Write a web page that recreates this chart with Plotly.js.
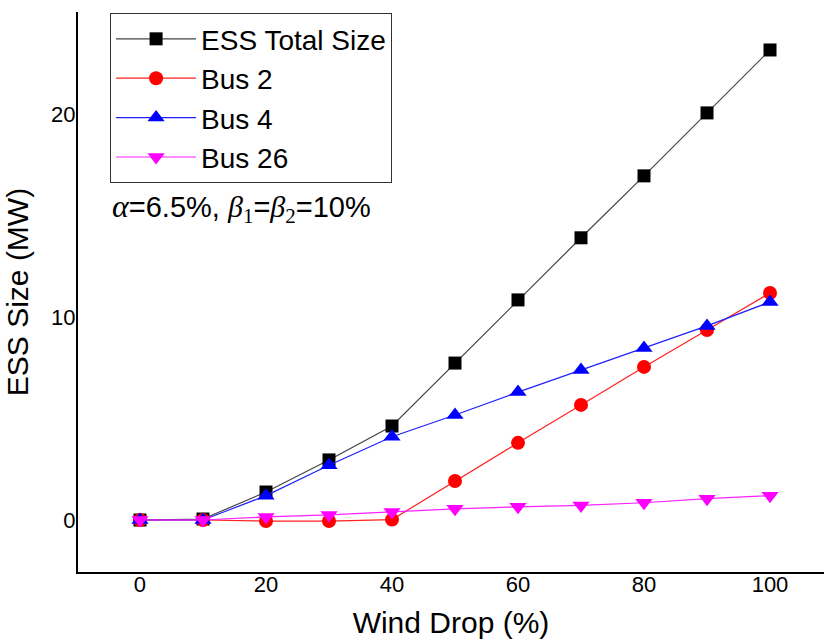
<!DOCTYPE html>
<html>
<head>
<meta charset="utf-8">
<script src="https://cdn.plot.ly/plotly-3.0.1.min.js"></script>
<style>body{margin:0;padding:0;background:#fff;} #chart{width:824px;height:639px;}</style>
</head>
<body>
<div id="chart"></div>
<script>
var windDrop = [0, 10, 20, 30, 40, 50, 60, 70, 80, 90, 100];
var essTotal = [0, 0.05, 1.38, 2.96, 4.63, 7.73, 10.84, 13.9, 16.95, 20.05, 23.15];
var bus2 = [0, 0, -0.05, -0.05, 0.02, 1.92, 3.8, 5.67, 7.54, 9.36, 11.18];
var bus4 = [0, 0, 1.2, 2.7, 4.1, 5.17, 6.3, 7.39, 8.47, 9.56, 10.74];
var bus26 = [0, 0, 0.15, 0.25, 0.4, 0.55, 0.65, 0.72, 0.85, 1.05, 1.2];
var seriesNames = ['ESS Total Size', 'Bus 2', 'Bus 4', 'Bus 26'];
var xTicks = [0, 20, 40, 60, 80, 100];
var yTicks = [0, 10, 20];

var traces = [
  {x: windDrop, y: essTotal, name: seriesNames[0], mode: 'lines+markers',
   line: {color: '#444444', width: 1.2}, marker: {symbol: 'square', size: 13, color: '#000000'}},
  {x: windDrop, y: bus2, name: seriesNames[1], mode: 'lines+markers',
   line: {color: '#ff2020', width: 1.2}, marker: {symbol: 'circle', size: 14, color: '#ff0000'}},
  {x: windDrop, y: bus4, name: seriesNames[2], mode: 'lines+markers',
   line: {color: '#2020ff', width: 1.2}, marker: {symbol: 'triangle-up', size: 15, color: '#0000ff'}},
  {x: windDrop, y: bus26, name: seriesNames[3], mode: 'lines+markers',
   line: {color: '#ff20ff', width: 1.2}, marker: {symbol: 'triangle-down', size: 15, color: '#ff00ff'}}
];

var layout = {
  width: 824, height: 639,
  margin: {l: 78, r: 0, t: 12, b: 67},
  paper_bgcolor: '#ffffff', plot_bgcolor: '#ffffff',
  font: {family: 'Liberation Sans, Arial, sans-serif', color: '#000000'},
  showlegend: true,
  legend: {
    x: 0.043, y: 0.998, xanchor: 'left', yanchor: 'top',
    bordercolor: '#333333', borderwidth: 1, bgcolor: '#ffffff',
    font: {size: 28, family: 'Liberation Sans, Arial, sans-serif'},
    itemwidth: 80, tracegroupgap: 0
  },
  xaxis: {
    range: [-9.84, 108.57], tickvals: xTicks, ticks: '', showgrid: false, zeroline: false,
    showline: true, linecolor: '#000000', linewidth: 2,
    tickfont: {size: 22}, automargin: false, ticklabelstandoff: -8,
    title: {text: 'Wind Drop (%)', font: {size: 30}, standoff: 20}
  },
  yaxis: {
    range: [-2.56, 25.02], tickvals: yTicks, ticks: '', showgrid: false, zeroline: false,
    showline: true, linecolor: '#000000', linewidth: 2,
    tickfont: {size: 22}, automargin: false, ticklabelstandoff: -4,
    title: {text: 'ESS Size (MW)', font: {size: 30}, standoff: 14}
  },
  annotations: [{
    xref: 'paper', yref: 'paper', x: 0.043, y: 0.65, xanchor: 'left', yanchor: 'middle',
    showarrow: false, font: {size: 29},
    text: '<span style="font-family:Liberation Serif;font-size:32px"><i>α</i></span>=6.5%, <span style="font-family:Liberation Serif;font-size:30px"><i>β</i><sub>1</sub></span>=<span style="font-family:Liberation Serif;font-size:30px"><i>β</i><sub>2</sub></span>=10%'
  }]
};

Plotly.newPlot('chart', traces, layout, {displayModeBar: false, staticPlot: true});
</script>
</body>
</html>
